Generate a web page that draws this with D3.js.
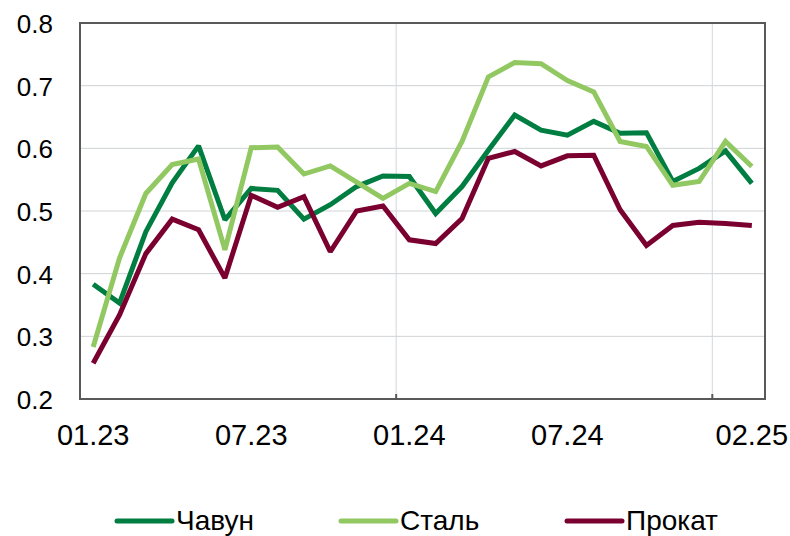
<!DOCTYPE html>
<html>
<head>
<meta charset="utf-8">
<script src="https://cdn.jsdelivr.net/npm/d3@7"></script>
<style>
  body { margin: 0; background: #fff; }
  text { font-family: "Liberation Sans", Arial, sans-serif; fill: #000; }
</style>
</head>
<body>
<svg width="790" height="536"></svg>
<script>
// Data
const months = [
  "01.23", "02.23", "03.23", "04.23", "05.23", "06.23", "07.23", "08.23", "09.23", "10.23", "11.23", "12.23",
  "01.24", "02.24", "03.24", "04.24", "05.24", "06.24", "07.24", "08.24", "09.24", "10.24", "11.24", "12.24",
  "01.25", "02.25"
];
const labelMonths = ["01.23", "07.23", "01.24", "07.24", "02.25"];
const yTicks = [0.2, 0.3, 0.4, 0.5, 0.6, 0.7, 0.8];

const chavun = [0.383, 0.353, 0.467, 0.545, 0.604, 0.486, 0.536, 0.533, 0.487, 0.510, 0.539, 0.556,
  0.555, 0.496, 0.539, 0.597, 0.653, 0.629, 0.621, 0.643, 0.624, 0.625, 0.547, 0.568, 0.596, 0.544];
const stal = [0.283, 0.425, 0.528, 0.574, 0.583, 0.438, 0.601, 0.602, 0.559, 0.572, 0.546, 0.520,
  0.544, 0.531, 0.611, 0.714, 0.737, 0.735, 0.708, 0.690, 0.611, 0.603, 0.541, 0.547, 0.611, 0.571];
const prokat = [0.257, 0.334, 0.432, 0.487, 0.470, 0.393, 0.525, 0.506, 0.523, 0.435, 0.500, 0.508,
  0.454, 0.448, 0.488, 0.584, 0.595, 0.572, 0.588, 0.589, 0.502, 0.445, 0.477, 0.482, 0.480, 0.477];

const series = [
  { name: "Чавун", values: chavun, color: "#007d40" },
  { name: "Сталь", values: stal, color: "#92c862" },
  { name: "Прокат", values: prokat, color: "#7a0030" }
];

// Plot area
const plotLeft = 80, plotRight = 765, plotTop = 23, plotBottom = 399;

const svg = d3.select("svg");

const x = d3.scaleBand().domain(months).range([plotLeft, plotRight]).padding(0);
const y = d3.scaleLinear().domain([0.2, 0.8]).range([plotBottom, plotTop]);
const cx = m => x(m) + x.bandwidth() / 2;

// horizontal gridlines
svg.append("g")
  .selectAll("line")
  .data(yTicks.slice(1, -1))
  .join("line")
  .attr("x1", plotLeft).attr("x2", plotRight)
  .attr("y1", d => y(d)).attr("y2", d => y(d))
  .attr("stroke", "#cfd3d6").attr("stroke-width", 1);

// vertical gridlines every 12 months
const yearEdges = [months[12], months[24]];
svg.append("g")
  .selectAll("line")
  .data(yearEdges)
  .join("line")
  .attr("x1", d => x(d)).attr("x2", d => x(d))
  .attr("y1", plotTop).attr("y2", plotBottom)
  .attr("stroke", "#d3d7db").attr("stroke-width", 1);

// y labels
svg.append("g")
  .selectAll("text")
  .data(yTicks)
  .join("text")
  .attr("x", 53)
  .attr("y", d => y(d))
  .attr("dy", "0.38em")
  .attr("text-anchor", "end")
  .style("font-size", "26px")
  .text(d3.format(".1f"));

// x labels
svg.append("g")
  .selectAll("text")
  .data(labelMonths)
  .join("text")
  .attr("x", d => cx(d))
  .attr("y", 445)
  .attr("text-anchor", "middle")
  .style("font-size", "29px")
  .text(d => d);

// lines
const line = d3.line()
  .x((d, i) => cx(months[i]))
  .y(d => y(d));

svg.append("g")
  .selectAll("path")
  .data(series)
  .join("path")
  .attr("d", d => line(d.values))
  .attr("fill", "none")
  .attr("stroke", d => d.color)
  .attr("stroke-width", 5)
  .attr("stroke-linejoin", "miter")
  .attr("stroke-miterlimit", 2);

// frame
svg.append("rect")
  .attr("x", plotLeft).attr("y", plotTop)
  .attr("width", plotRight - plotLeft).attr("height", plotBottom - plotTop)
  .attr("fill", "none")
  .attr("stroke", "#595959")
  .attr("stroke-width", 2);

// tick marks on the x axis (inside)
svg.append("g")
  .selectAll("line")
  .data(yearEdges)
  .join("line")
  .attr("x1", d => x(d)).attr("x2", d => x(d))
  .attr("y1", plotBottom).attr("y2", plotBottom - 5)
  .attr("stroke", "#595959").attr("stroke-width", 2);

// legend
const legendX = [117, 341, 567];
const legend = svg.append("g")
  .selectAll("g")
  .data(series)
  .join("g")
  .attr("transform", (d, i) => `translate(${legendX[i]},521)`);

legend.append("line")
  .attr("x1", 0).attr("x2", 55)
  .attr("stroke", d => d.color)
  .attr("stroke-width", 5)
  .attr("stroke-linecap", "round");

legend.append("text")
  .attr("x", 59)
  .attr("y", 9)
  .style("font-size", "28px")
  .text(d => d.name);
</script>
</body>
</html>
